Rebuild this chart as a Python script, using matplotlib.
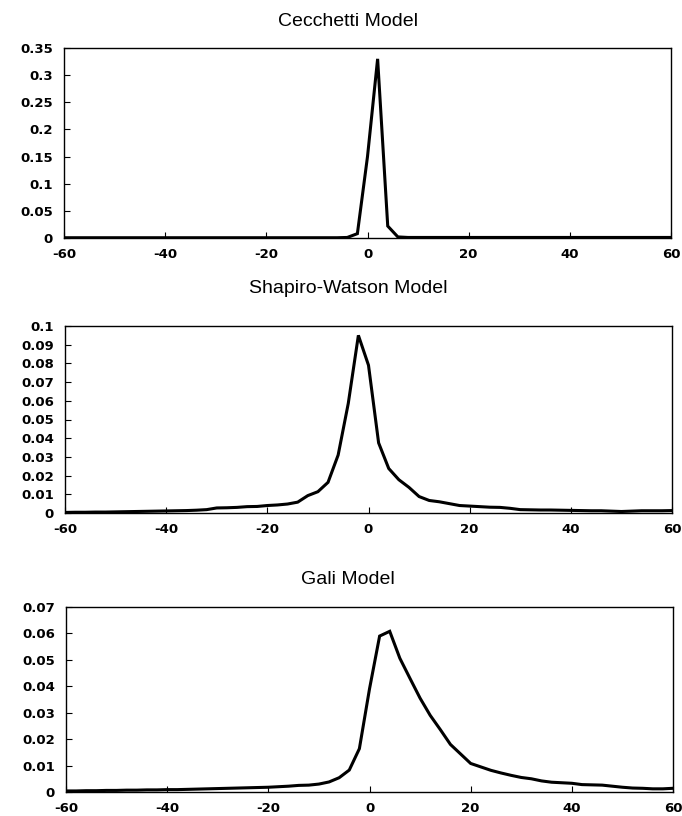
import numpy as np
import matplotlib
matplotlib.use('Agg')
import matplotlib.pyplot as plt

# x grid (step 2, -60..60)
x_vals = list(range(-60, 61, 2))

# Cecchetti model density
cecchetti = [0.0005] * 28 + [0.001, 0.008, 0.15, 0.33, 0.022, 0.002, 0.001] + [0.001] * 26

# Shapiro-Watson model density (-60..-2, then 0..60)
shapiro_left = [0.0003, 0.0004, 0.0004, 0.0005, 0.0005, 0.0006, 0.0007, 0.0008,
                0.0009, 0.0010, 0.0011, 0.0012, 0.0013, 0.0015, 0.0018, 0.0027,
                0.0028, 0.0030, 0.0034, 0.0035, 0.0040, 0.0043, 0.0048, 0.0058,
                0.0093, 0.0114, 0.0164, 0.031, 0.0586, 0.095]
shapiro_right = [0.079, 0.0375, 0.0238, 0.0178, 0.0137, 0.0088, 0.0067, 0.0060,
                 0.0050, 0.0040, 0.0037, 0.0034, 0.0031, 0.0030, 0.0025, 0.0018,
                 0.0017, 0.0016, 0.0016, 0.0015, 0.0014, 0.0013, 0.0012, 0.0012,
                 0.0010, 0.0008, 0.0010, 0.0012, 0.0012, 0.0012, 0.0013]
shapiro = shapiro_left + shapiro_right

# Gali model density (-60..0, then 2..60)
gali_left = [0.0004, 0.0004, 0.0005, 0.0005, 0.0006, 0.0006, 0.0007, 0.0007,
             0.0008, 0.0008, 0.0009, 0.0009, 0.0010, 0.0011, 0.0012, 0.0013,
             0.0014, 0.0015, 0.0016, 0.0017, 0.0018, 0.0020, 0.0022, 0.0025,
             0.0026, 0.0030, 0.0038, 0.0054, 0.0083, 0.0164, 0.039]
gali_right = [0.059, 0.0608, 0.0506, 0.043, 0.0355, 0.029, 0.0236, 0.018,
              0.0144, 0.0108, 0.0095, 0.0082, 0.0072, 0.0063, 0.0055, 0.0050,
              0.0042, 0.0037, 0.0035, 0.0033, 0.0028, 0.0027, 0.0026, 0.0022,
              0.0018, 0.0015, 0.0014, 0.0012, 0.0012, 0.0014]
gali = gali_left + gali_right

titles = ["Cecchetti Model", "Shapiro-Watson Model", "Gali Model"]
series = [cecchetti, shapiro, gali]
y_ticks = [
    [0, 0.05, 0.1, 0.15, 0.2, 0.25, 0.3, 0.35],
    [0, 0.01, 0.02, 0.03, 0.04, 0.05, 0.06, 0.07, 0.08, 0.09, 0.1],
    [0, 0.01, 0.02, 0.03, 0.04, 0.05, 0.06, 0.07],
]
y_labels = [
    ["0", "0.05", "0.1", "0.15", "0.2", "0.25", "0.3", "0.35"],
    ["0", "0.01", "0.02", "0.03", "0.04", "0.05", "0.06", "0.07", "0.08", "0.09", "0.1"],
    ["0", "0.01", "0.02", "0.03", "0.04", "0.05", "0.06", "0.07"],
]
x_ticks = [-60, -40, -20, 0, 20, 40, 60]

W, H = 682, 816
fig = plt.figure(figsize=(W / 100, H / 100), dpi=100)

# pixel boxes (left, top, right, bottom) and title y
boxes = [(64, 48, 671, 238), (65, 326, 672, 513), (66, 607, 673, 792)]
title_y = [22, 288, 580]

for i in range(3):
    l, t, r, b = boxes[i]
    ax = fig.add_axes([l / W, 1 - b / H, (r - l) / W, (b - t) / H])
    ax.plot(x_vals, series[i], color='black', lw=2.2, solid_joinstyle='miter')
    ax.set_xlim(-60, 60)
    ax.set_ylim(0, y_ticks[i][-1])
    ax.set_xticks(x_ticks)
    ax.set_xticklabels([str(v) for v in x_ticks])
    ax.set_yticks(y_ticks[i])
    ax.set_yticklabels(y_labels[i])
    ax.tick_params(direction='in', length=4, width=0.8)
    ax.tick_params(axis='y', pad=8)
    ax.tick_params(axis='x', pad=7)
    for lab in ax.get_xticklabels() + ax.get_yticklabels():
        lab.set_fontweight('bold')
        lab.set_fontsize(9.5)
        lab.set_family('DejaVu Sans')
    for sp in ax.spines.values():
        sp.set_linewidth(1.0)
    fig.text(348 / W, 1 - title_y[i] / H, titles[i],
             ha='center', va='center', fontsize=14, family='Liberation Sans')

fig.savefig('out.png', dpi=100)
